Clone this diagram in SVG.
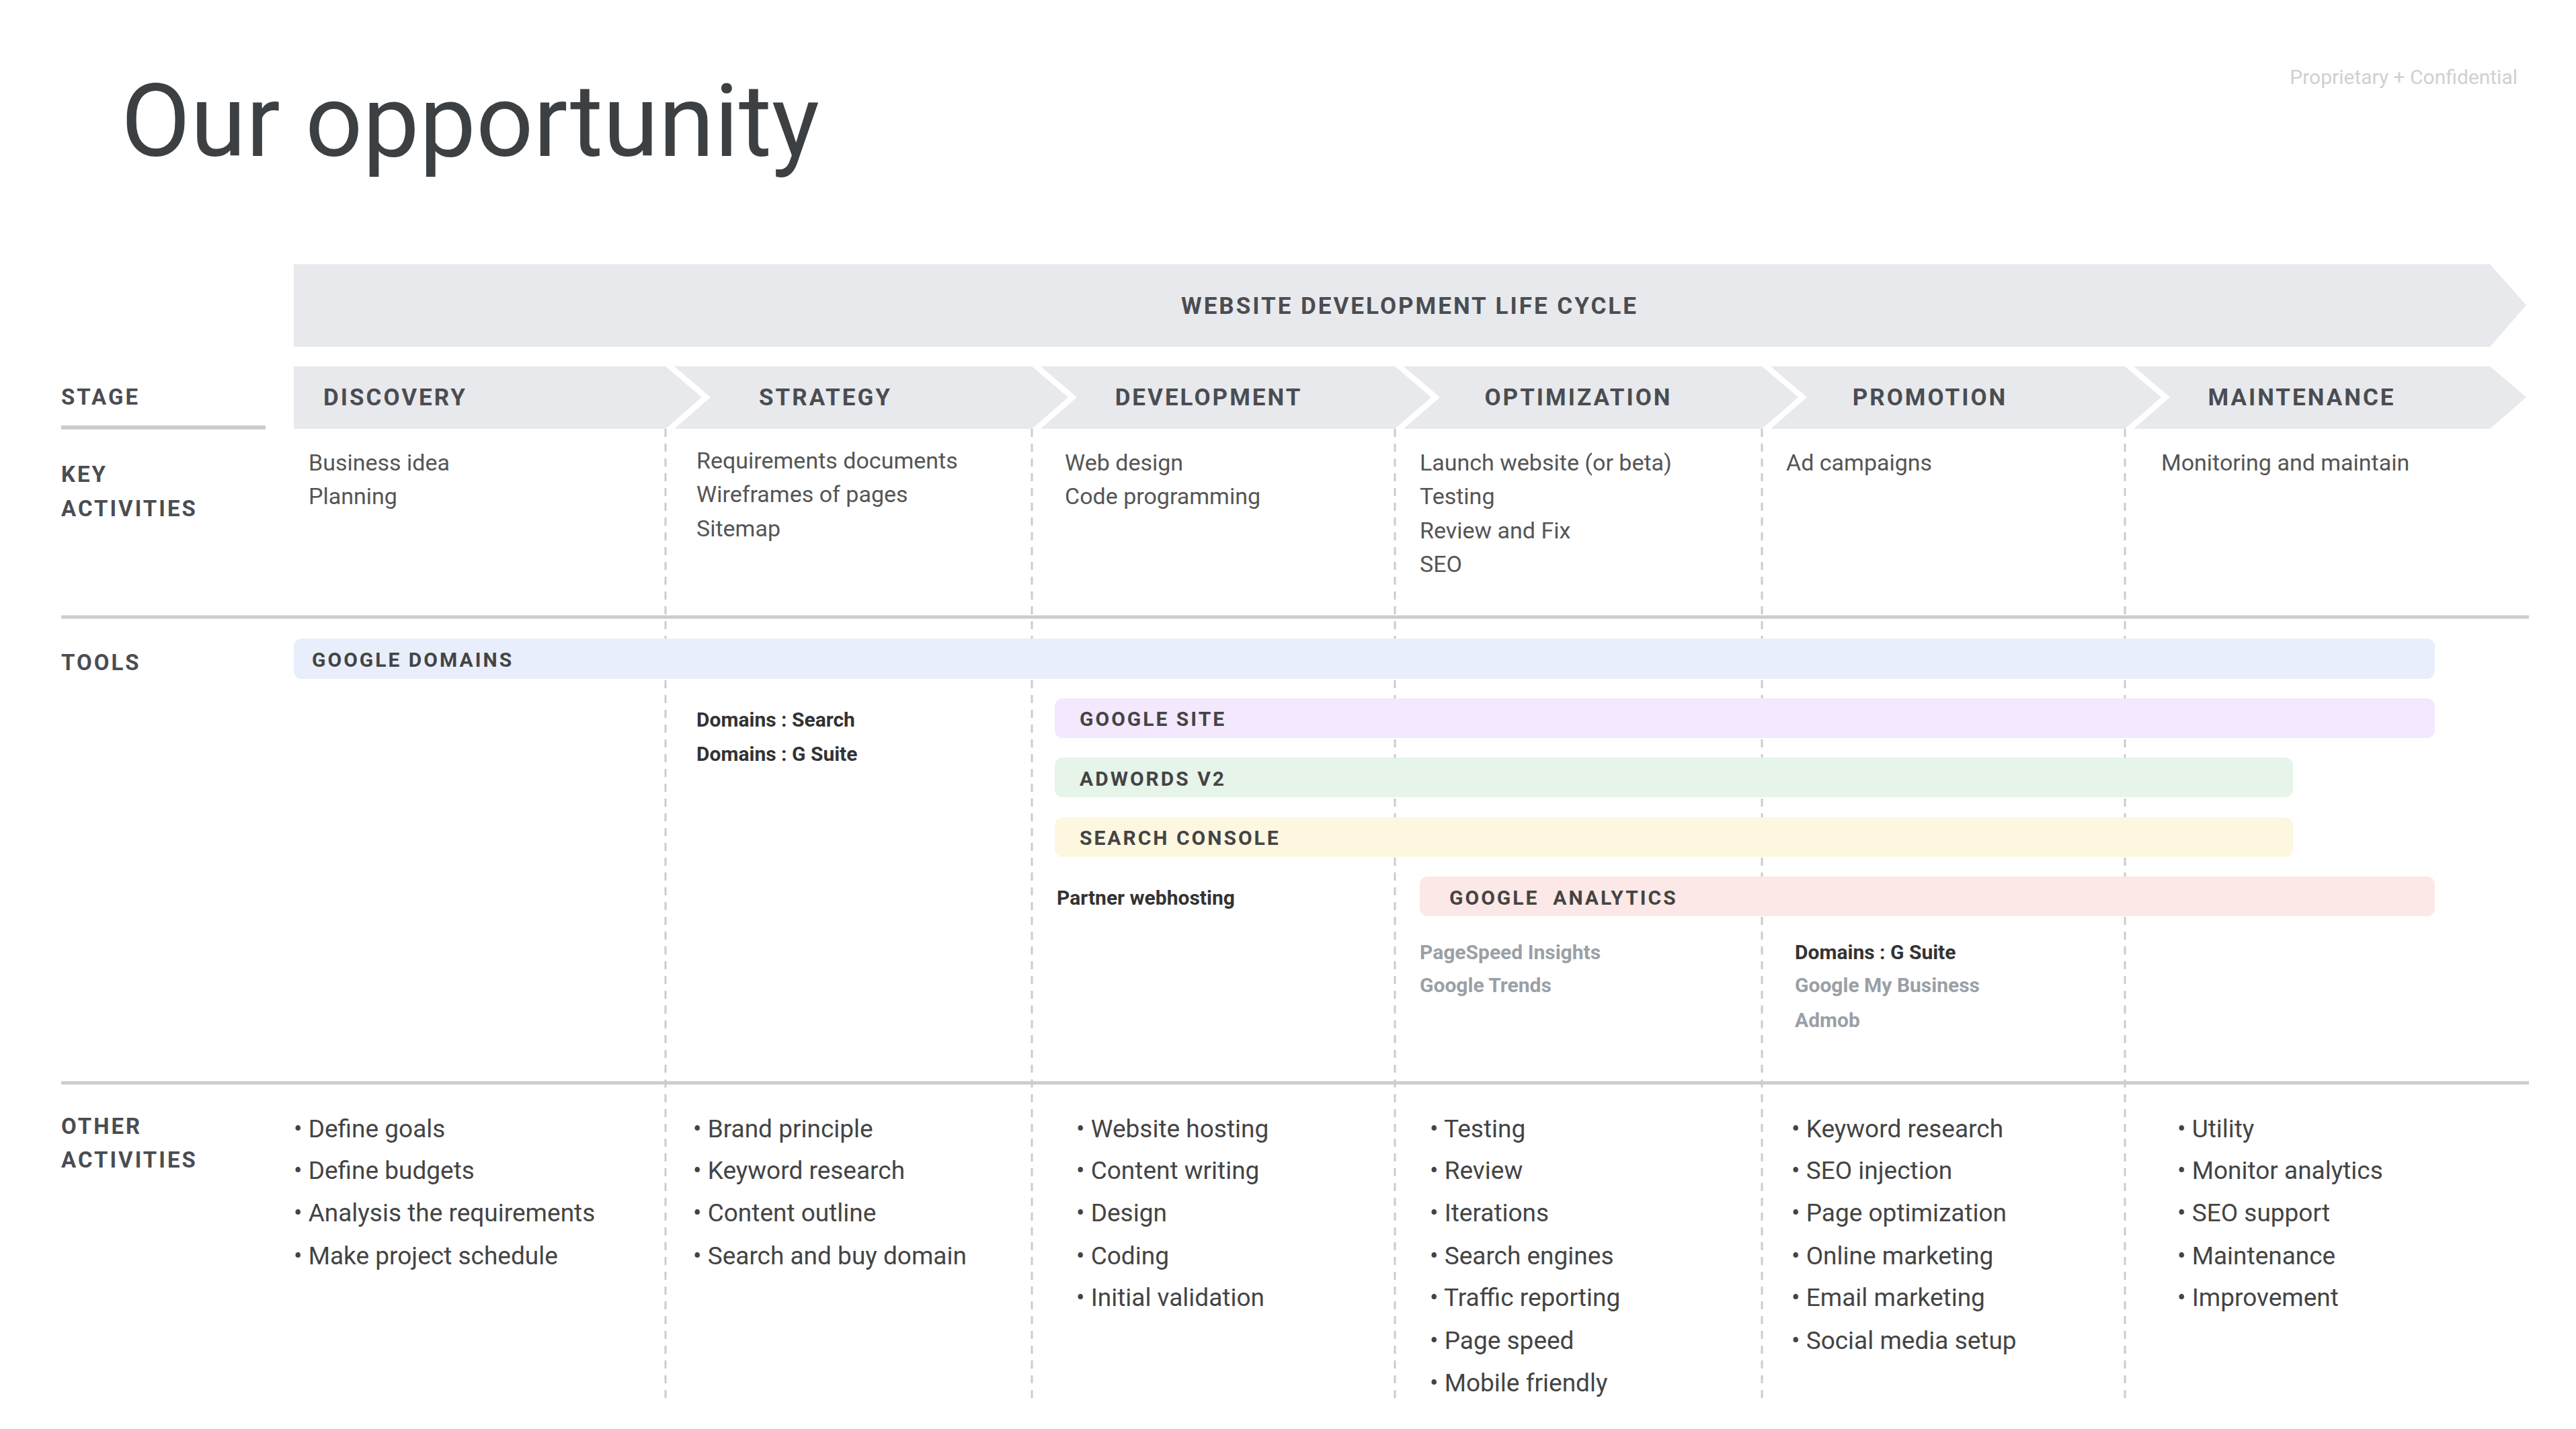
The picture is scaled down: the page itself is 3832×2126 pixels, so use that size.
<svg xmlns="http://www.w3.org/2000/svg" width="3832" height="2126" viewBox="0 0 3832 2126">
<style>
text{font-family:Roboto,"Liberation Sans",sans-serif;fill:#3c4043}
.hd{font-size:35px;font-weight:700;letter-spacing:3px;fill:#4a4d52}
.rl{font-size:33px;font-weight:700;letter-spacing:3px;fill:#4a4d52}
.ka{font-size:34px;fill:#555}
.tl{font-size:30px;font-weight:700;letter-spacing:3px;fill:#444}
.sm{font-size:30px;font-weight:700;fill:#333}
.gr{font-size:30px;font-weight:700;fill:#9aa0a6}
.oa{font-size:37px;fill:#444}
.chev{fill:#e8e9ec}
.dash{stroke:#ccc;stroke-width:3;stroke-dasharray:12 10}
.sep{stroke:#ccc;stroke-width:5}
</style>
<rect width="3832" height="2126" fill="#fff"/>
<text x="180" y="232" style="font-size:150px;fill:#3c4043">Our opportunity</text>
<text x="3745" y="125" text-anchor="end" style="font-size:30px;fill:#d0d0d0">Proprietary + Confidential</text>
<g id="lifecycle">
<polygon class="chev" points="437,393 3704,393 3758,454 3704,516 437,516"/>
<text class="hd" x="2097" y="467" text-anchor="middle">WEBSITE DEVELOPMENT LIFE CYCLE</text>
</g>
<g id="connectors">
<line class="dash" x1="990" y1="638" x2="990" y2="2088"/>
<line class="dash" x1="1535" y1="638" x2="1535" y2="2088"/>
<line class="dash" x1="2075" y1="638" x2="2075" y2="2088"/>
<line class="dash" x1="2621" y1="638" x2="2621" y2="2088"/>
<line class="dash" x1="3161" y1="638" x2="3161" y2="2088"/>
<line class="sep" x1="91" y1="918" x2="3762" y2="918"/>
<line class="sep" x1="91" y1="1611" x2="3762" y2="1611"/>
<line stroke="#ccc" stroke-width="6" x1="91" y1="636" x2="395" y2="636"/>
</g>
<g id="labels">
<text class="rl" x="91" y="602">STAGE</text>
<text class="rl" x="91" y="717">KEY</text>
<text class="rl" x="91" y="768">ACTIVITIES</text>
<text class="rl" x="91" y="997">TOOLS</text>
<text class="rl" x="91" y="1687">OTHER</text>
<text class="rl" x="91" y="1737">ACTIVITIES</text>
</g>
<g id="discovery">
<polygon class="chev" points="437,545 990,545 1044,591 990,638 437,638"/>
<text class="hd" x="481" y="603">DISCOVERY</text>
<text class="ka" x="459" y="700">Business idea</text>
<text class="ka" x="459" y="750">Planning</text>
<text class="oa" x="437" y="1692">• Define goals</text>
<text class="oa" x="437" y="1754">• Define budgets</text>
<text class="oa" x="437" y="1817">• Analysis the requirements</text>
<text class="oa" x="437" y="1881">• Make project schedule</text>
</g>
<g id="strategy">
<polygon class="chev" points="1003,545 1535,545 1589,591 1535,638 1003,638 1057,591"/>
<text class="hd" x="1228" y="603" text-anchor="middle">STRATEGY</text>
<text class="ka" x="1036" y="697">Requirements documents</text>
<text class="ka" x="1036" y="747">Wireframes of pages</text>
<text class="ka" x="1036" y="798">Sitemap</text>
<text class="sm" x="1036" y="1081">Domains : Search</text>
<text class="sm" x="1036" y="1132">Domains : G Suite</text>
<text class="oa" x="1031" y="1692">• Brand principle</text>
<text class="oa" x="1031" y="1754">• Keyword research</text>
<text class="oa" x="1031" y="1817">• Content outline</text>
<text class="oa" x="1031" y="1881">• Search and buy domain</text>
</g>
<g id="development">
<polygon class="chev" points="1548,545 2075,545 2129,591 2075,638 1548,638 1602,591"/>
<text class="hd" x="1798" y="603" text-anchor="middle">DEVELOPMENT</text>
<text class="ka" x="1584" y="700">Web design</text>
<text class="ka" x="1584" y="750">Code programming</text>
<text class="sm" x="1572" y="1346">Partner webhosting</text>
<text class="oa" x="1601" y="1692">• Website hosting</text>
<text class="oa" x="1601" y="1754">• Content writing</text>
<text class="oa" x="1601" y="1817">• Design</text>
<text class="oa" x="1601" y="1881">• Coding</text>
<text class="oa" x="1601" y="1943">• Initial validation</text>
</g>
<g id="optimization">
<polygon class="chev" points="2088,545 2621,545 2675,591 2621,638 2088,638 2142,591"/>
<text class="hd" x="2348" y="603" text-anchor="middle">OPTIMIZATION</text>
<text class="ka" x="2112" y="700">Launch website (or beta)</text>
<text class="ka" x="2112" y="750">Testing</text>
<text class="ka" x="2112" y="801">Review and Fix</text>
<text class="ka" x="2112" y="851">SEO</text>
<text class="gr" x="2112" y="1427">PageSpeed Insights</text>
<text class="gr" x="2112" y="1476">Google Trends</text>
<text class="oa" x="2127" y="1692">• Testing</text>
<text class="oa" x="2127" y="1754">• Review</text>
<text class="oa" x="2127" y="1817">• Iterations</text>
<text class="oa" x="2127" y="1881">• Search engines</text>
<text class="oa" x="2127" y="1943">• Traffic reporting</text>
<text class="oa" x="2127" y="2007">• Page speed</text>
<text class="oa" x="2127" y="2070">• Mobile friendly</text>
</g>
<g id="promotion">
<polygon class="chev" points="2634,545 3161,545 3215,591 3161,638 2634,638 2688,591"/>
<text class="hd" x="2871" y="603" text-anchor="middle">PROMOTION</text>
<text class="ka" x="2657" y="700">Ad campaigns</text>
<text class="sm" x="2670" y="1427">Domains : G Suite</text>
<text class="gr" x="2670" y="1476">Google My Business</text>
<text class="gr" x="2670" y="1528">Admob</text>
<text class="oa" x="2665" y="1692">• Keyword research</text>
<text class="oa" x="2665" y="1754">• SEO injection</text>
<text class="oa" x="2665" y="1817">• Page optimization</text>
<text class="oa" x="2665" y="1881">• Online marketing</text>
<text class="oa" x="2665" y="1943">• Email marketing</text>
<text class="oa" x="2665" y="2007">• Social media setup</text>
</g>
<g id="maintenance">
<polygon class="chev" points="3174,545 3704,545 3758,591 3704,638 3174,638 3228,591"/>
<text class="hd" x="3424" y="603" text-anchor="middle">MAINTENANCE</text>
<text class="ka" x="3215" y="700">Monitoring and maintain</text>
<text class="oa" x="3239" y="1692">• Utility</text>
<text class="oa" x="3239" y="1754">• Monitor analytics</text>
<text class="oa" x="3239" y="1817">• SEO support</text>
<text class="oa" x="3239" y="1881">• Maintenance</text>
<text class="oa" x="3239" y="1943">• Improvement</text>
</g>
<g id="google-domains"><rect x="437" y="950" width="3185" height="60" rx="12" fill="#e8eefb"/><text class="tl" x="464" y="992">GOOGLE DOMAINS</text></g>
<g id="google-site"><rect x="1569" y="1039" width="2053" height="59" rx="12" fill="#f3e8fd"/><text class="tl" x="1606" y="1080">GOOGLE SITE</text></g>
<g id="adwords"><rect x="1569" y="1127" width="1842" height="59" rx="12" fill="#e6f4ea"/><text class="tl" x="1606" y="1169">ADWORDS V2</text></g>
<g id="search-console"><rect x="1569" y="1216" width="1842" height="59" rx="12" fill="#fef7e0"/><text class="tl" x="1606" y="1257">SEARCH CONSOLE</text></g>
<g id="google-analytics"><rect x="2112" y="1304" width="1510" height="59" rx="12" fill="#fce8e6"/><text class="tl" x="2156" y="1346" xml:space="preserve">GOOGLE  ANALYTICS</text></g>
</svg>
